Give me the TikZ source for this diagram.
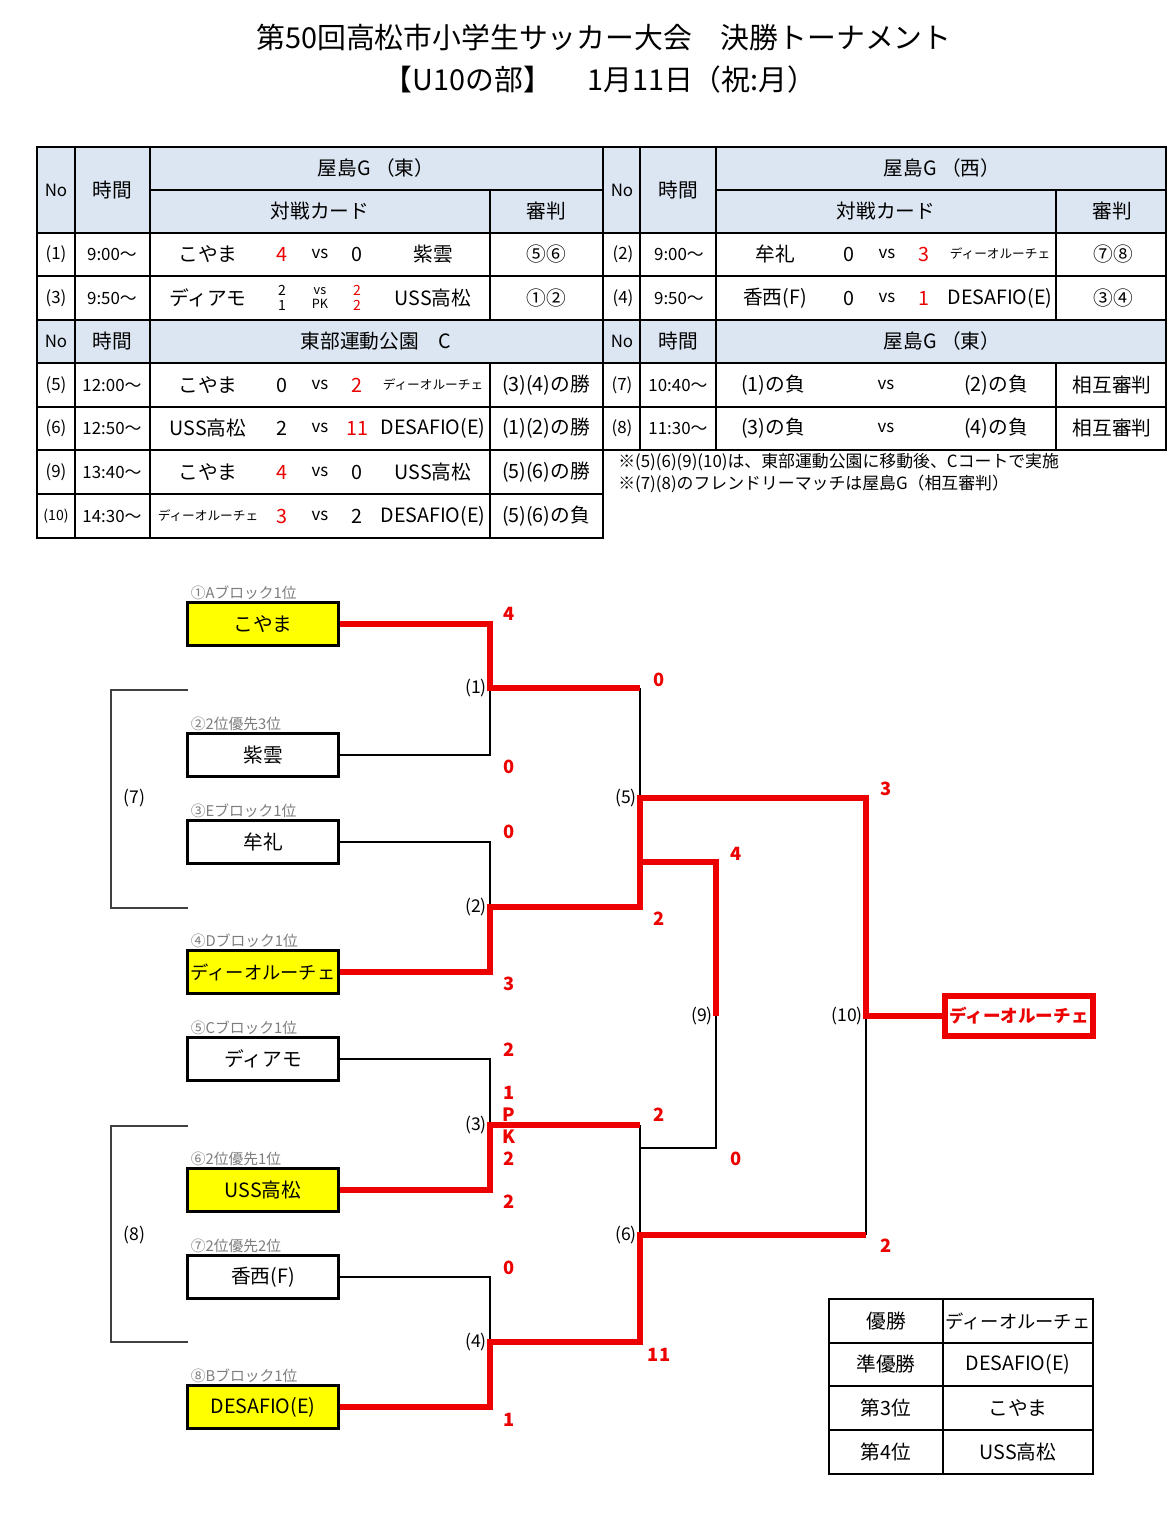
\documentclass[tikz,border=0pt]{standalone}
\usepackage{fontspec}
\setmainfont{Noto Sans CJK JP}
\usetikzlibrary{positioning}
\definecolor{hdrblue}{RGB}{220,230,242}
\definecolor{seedgray}{RGB}{125,125,125}
\definecolor{winred}{RGB}{236,0,0}
\definecolor{teamyellow}{RGB}{255,255,0}
\newcommand{\redsc}[1]{\textcolor{winred}{#1}}
\newcommand{\smallname}[1]{{\fontsize{9}{10}\selectfont #1}}

\begin{document}
\begin{tikzpicture}[x=0.025cm,y=-0.025cm]
\tikzstyle{cell} = [font=\fontsize{14}{16}\selectfont, inner sep=0pt]
\tikzstyle{cellsm} = [font=\fontsize{12}{14}\selectfont, inner sep=0pt]
\tikzstyle{grid} = [draw=black, line width=1.3pt]
\tikzstyle{team} = [rectangle, draw=black, line width=1.5pt, minimum width=3.775cm,
minimum height=1.075cm, inner sep=0pt, font=\fontsize{14}{16}\selectfont]
\tikzstyle{seed} = [text=seedgray, font=\fontsize{10.5}{12}\selectfont, inner sep=0pt]
\tikzstyle{win} = [draw=winred, line width=4.3pt]
\tikzstyle{lose} = [draw=black, line width=0.8pt]
\tikzstyle{score} = [text=winred, font=\bfseries\fontsize{13}{14}\selectfont, inner sep=0pt]
\tikzstyle{rnd} = [font=\fontsize{12.5}{14}\selectfont, inner sep=1pt]
\fill[white] (0,0) rectangle (1168,1526);
\useasboundingbox (0,0) rectangle (1168,1526);

% title
\node[font=\fontsize{20.5}{24}\selectfont] (title1) at (604,38) {第50回高松市小学生サッカー大会　決勝トーナメント};
\node[font=\fontsize{20.5}{24}\selectfont] (title2) at (600,80) {【U10の部】　 1月11日（祝:月）};

% schedule tables
\fill[hdrblue] (37,147) rectangle (603,233);
\fill[hdrblue] (37,320) rectangle (603,363);
\fill[hdrblue] (603,147) rectangle (1166,233);
\fill[hdrblue] (603,320) rectangle (1166,363);
\draw[grid] (37,147) rectangle (603,538);
\foreach \y in {233,276,320,363,407,450,494} \draw[grid] (37,\y) -- (603,\y);
\draw[grid] (150,190) -- (603,190);
\foreach \x in {75,150} \draw[grid] (\x,147) -- (\x,538);
\draw[grid] (490,190) -- (490,320) (490,363) -- (490,538);
\draw[grid] (603,147) -- (1166,147) -- (1166,450) -- (603,450);
\foreach \y in {233,276,320,363,407} \draw[grid] (603,\y) -- (1166,\y);
\draw[grid] (716,190) -- (1166,190);
\foreach \x in {640,716} \draw[grid] (\x,147) -- (\x,450);
\draw[grid] (1056,190) -- (1056,320) (1056,363) -- (1056,450);

% headers
\foreach \nm/\dx/\place in {hl/0/{屋島G （東）}, hr/566/{屋島G （西）}}
{
  \node[cellsm] (\nm-no) at (56+\dx,190) {No};
  \node[cell] (\nm-tm) at (112+\dx,190) {時間};
  \node[cell] (\nm-pl) at (376+\dx,168) {\place};
  \node[cell] (\nm-cd) at (320+\dx,211) {対戦カード};
  \node[cell] (\nm-rf) at (546+\dx,211) {審判};
}
\foreach \nm/\dx/\place in {hl2/0/{東部運動公園　C}, hr2/566/{屋島G （東）}}
{
  \node[cellsm] (\nm-no) at (56+\dx,341) {No};
  \node[cell] (\nm-tm) at (112+\dx,341) {時間};
  \node[cell] (\nm-pl) at (376+\dx,341) {\place};
}

% match rows
\foreach \nm/\dx/\y/\no/\tm/\ta/\sa/\sb/\tb/\rf in {
  r1/0/254/{(1)}/{9:00〜}/{こやま}/{\redsc{4}}/{0}/{紫雲}/{⑤⑥},
  r5/0/385/{(5)}/{12:00〜}/{こやま}/{0}/{\redsc{2}}/{\smallname{ディーオルーチェ}}/{(3)(4)の勝},
  r6/0/428/{(6)}/{12:50〜}/{USS高松}/{2}/{\redsc{11}}/{DESAFIO(E)}/{(1)(2)の勝},
  r9/0/472/{(9)}/{13:40〜}/{こやま}/{\redsc{4}}/{0}/{USS高松}/{(5)(6)の勝},
  r10/0/516/{{\fontsize{10}{12}\selectfont (10)}}/{14:30〜}/{\smallname{ディーオルーチェ}}/{\redsc{3}}/{2}/{DESAFIO(E)}/{(5)(6)の負},
  r2/567/254/{(2)}/{9:00〜}/{牟礼}/{0}/{\redsc{3}}/{\smallname{ディーオルーチェ}}/{⑦⑧},
  r4/567/298/{(4)}/{9:50〜}/{香西(F)}/{0}/{\redsc{1}}/{DESAFIO(E)}/{③④}}
{
  \node[cellsm] (\nm-no) at (56+\dx,\y) {\no};
  \node[cellsm] (\nm-tm) at (112+\dx,\y) {\tm};
  \node[cell] (\nm-ta) at (208+\dx,\y) {\ta};
  \node[cell] (\nm-sa) at (282+\dx,\y) {\sa};
  \node[cellsm] (\nm-vs) at (320+\dx,\y) {vs};
  \node[cell] (\nm-sb) at (357+\dx,\y) {\sb};
  \node[cell] (\nm-tb) at (433+\dx,\y) {\tb};
  \node[cell] (\nm-rf) at (546+\dx,\y) {\rf};
}
% row (3) with PK
\node[cellsm] (r3-no) at (56,298) {(3)};
\node[cellsm] (r3-tm) at (112,298) {9:50〜};
\node[cell] (r3-ta) at (208,298) {ディアモ};
\node[font=\fontsize{10}{11}\selectfont] (r3-sa) at (282,298) {\shortstack{2\\1}};
\node[font=\fontsize{9}{11}\selectfont] (r3-vs) at (320,298) {\shortstack{vs\\PK}};
\node[font=\fontsize{10}{11}\selectfont, text=winred] (r3-sb) at (357,298) {\shortstack{2\\2}};
\node[cell] (r3-tb) at (433,298) {USS高松};
\node[cell] (r3-rf) at (546,298) {①②};
% friendly rows
\foreach \nm/\y/\no/\tm/\ta/\tb in {r7/385/{(7)}/{10:40〜}/{(1)の負}/{(2)の負}, r8/428/{(8)}/{11:30〜}/{(3)の負}/{(4)の負}}
{
  \node[cellsm] (\nm-no) at (622,\y) {\no};
  \node[cellsm] (\nm-tm) at (678,\y) {\tm};
  \node[cell] (\nm-ta) at (773,\y) {\ta};
  \node[cellsm] (\nm-vs) at (886,\y) {vs};
  \node[cell] (\nm-tb) at (996,\y) {\tb};
  \node[cell] (\nm-rf) at (1112,\y) {相互審判};
}
\node[cellsm, anchor=west] (note1) at (618,462) {※(5)(6)(9)(10)は、東部運動公園に移動後、Cコートで実施};
\node[cellsm, anchor=west] (note2) at (618,484) {※(7)(8)のフレンドリーマッチは屋島G（相互審判）};

% teams
\foreach \n/\y/\sd/\tm/\fc in {
  ta/624/{①Aブロック1位}/{こやま}/teamyellow,
  tb/755/{②2位優先3位}/{紫雲}/white,
  tc/842/{③Eブロック1位}/{牟礼}/white,
  td/972/{④Dブロック1位}/{{\fontsize{13}{14}\selectfont ディーオルーチェ}}/teamyellow,
  te/1059/{⑤Cブロック1位}/{ディアモ}/white,
  tf/1190/{⑥2位優先1位}/{USS高松}/teamyellow,
  tg/1277/{⑦2位優先2位}/{香西(F)}/white,
  th/1407/{⑧Bブロック1位}/{DESAFIO(E)}/teamyellow}
{
  \node[team, fill=\fc] (\n) at (263,\y) {\tm};
  \node[seed, above right=1pt and 3pt of \n.north west, anchor=south west] (\n-seed) {\sd};
}

% match points
\coordinate (m1) at (490,688);
\coordinate (m2) at (490,907);
\coordinate (m3) at (490,1125);
\coordinate (m4) at (490,1342);
\coordinate (m5) at (640,798);
\coordinate (m6) at (640,1235);
\coordinate (m9) at (716,1016);
\coordinate (m10) at (866,1016);
\coordinate (j9a) at (640,862);
\coordinate (j9b) at (640,1148);
\node[draw=winred, line width=4pt, minimum width=3.7cm, minimum height=1.0cm, inner sep=0pt,
text=winred, font=\bfseries\fontsize{12.5}{14}\selectfont] (champ) at (1019,1016) {ディーオルーチェ};

% bracket lines
\draw[lose] (tb.east) -| (m1);
\draw[lose] (tc.east) -| (m2);
\draw[lose] (te.east) -| (m3);
\draw[lose] (tg.east) -| (m4);
\draw[lose] (m1 -| m5) -- (m5);
\draw[lose] (m3 -| m6) -- (m6);
\draw[lose] (j9b) -| (m9);
\draw[lose] (m6 -| m10) -- (m10);
\draw[win] (ta.east) -| (m1) -- (m1 -| m5);
\draw[win] (td.east) -| (m2) -- (m2 -| m5) -- (m5) -- (m5 -| m10) -- (m10) -- (champ.west);
\draw[win] (tf.east) -| (m3) -- (m3 -| m6);
\draw[win] (th.east) -| (m4) -- (m4 -| m6) -- (m6) -- (m6 -| m10);
\draw[win] (j9a) -| (m9);

% round labels
\foreach \m/\t in {m1/(1), m2/(2), m3/(3), m4/(4), m5/(5), m6/(6), m9/(9), m10/(10)}
  \node[rnd, left=1pt of \m] (\m-lab) {\t};

% friendly brackets
\coordinate (b7a) at (188,690);
\coordinate (b7b) at (188,908);
\coordinate (k7) at (111,798);
\coordinate (b8a) at (188,1126);
\coordinate (b8b) at (188,1342);
\coordinate (k8) at (111,1235);
\draw[lose, draw=black!75] (b7a) -| (k7) |- (b7b);
\draw[lose, draw=black!75] (b8a) -| (k8) |- (b8b);
\node[rnd, right=8pt of k7] (lab7) {(7)};
\node[rnd, right=8pt of k8] (lab8) {(8)};

% scores
\foreach \nm/\x/\y/\s in {s1a/509/614/4, s1b/509/767/0, s2a/509/832/0, s2b/509/984/3,
  s3a/509/1050/2, s3p1/509/1093/1, s3p2/509/1115/P, s3p3/509/1137/K, s3p4/509/1159/2, s3b/509/1202/2,
  s4a/509/1268/0, s4b/509/1420/1, s5a/659/680/0, s5b/659/919/2, s6a/659/1115/2, s6b/659/1355/11,
  s9a/736/854/4, s9b/736/1159/0, s10a/886/789/3, s10b/886/1246/2}
  \node[score] (\nm) at (\x,\y) {\s};

% final standings
\draw[grid] (829,1299) rectangle (1093,1474);
\foreach \y in {1343,1386,1430} \draw[grid] (829,\y) -- (1093,\y);
\draw[grid] (943,1299) -- (943,1474);
\foreach \nm/\y/\rk/\tm in {p1/1321/優勝/{{\fontsize{13}{14}\selectfont ディーオルーチェ}},
  p2/1364/準優勝/{DESAFIO(E)}, p3/1408/第3位/{こやま}, p4/1452/第4位/{USS高松}}
{
  \node[cell] (\nm-rk) at (886,\y) {\rk};
  \node[cell] (\nm-tm) at (1018,\y) {\tm};
}
\end{tikzpicture}
\end{document}
